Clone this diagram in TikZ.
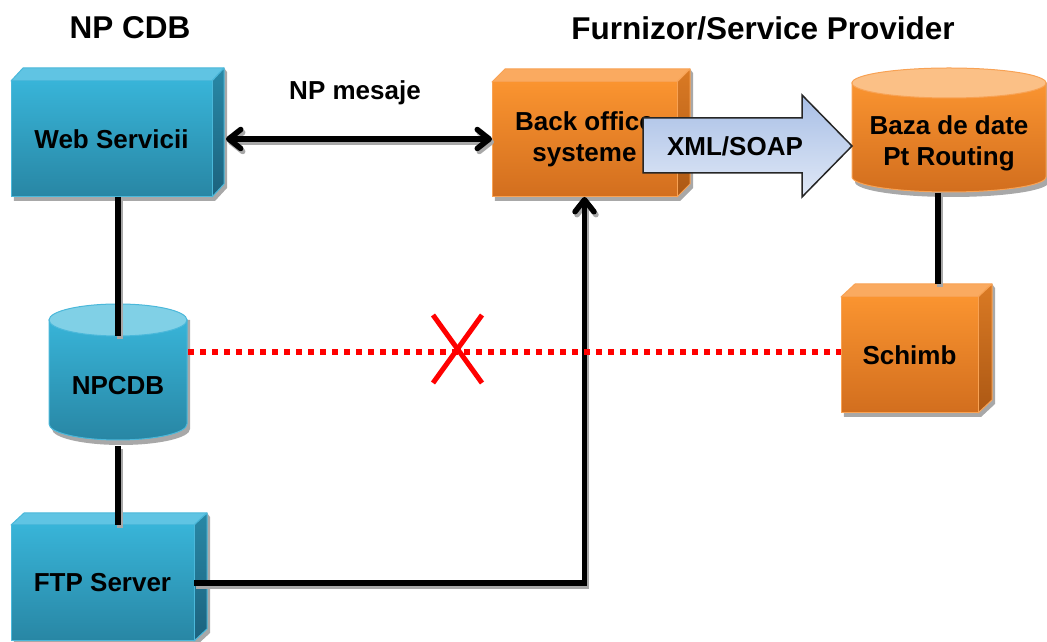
\documentclass[tikz,border=0pt]{standalone}
\usepackage{fontspec}
\setmainfont{Liberation Sans}
\usetikzlibrary{arrows.meta}

\pgfdeclarelayer{bg}
\pgfsetlayers{bg,main}

% palette
\definecolor{bluetop}{RGB}{56,180,216}
\definecolor{bluebot}{RGB}{40,134,164}
\definecolor{bluelid}{RGB}{96,196,227}
\definecolor{blueside}{RGB}{40,136,166}
\definecolor{bluesidedk}{RGB}{28,98,126}
\definecolor{blueedge}{RGB}{75,184,218}
\definecolor{bluecap}{RGB}{128,208,230}
\definecolor{orgtop}{RGB}{250,148,48}
\definecolor{orgbot}{RGB}{210,110,30}
\definecolor{orglid}{RGB}{250,170,96}
\definecolor{orgside}{RGB}{218,122,36}
\definecolor{orgsidedk}{RGB}{172,88,20}
\definecolor{orgedge}{RGB}{248,162,84}
\definecolor{orgcap}{RGB}{251,192,134}
\definecolor{shadowgray}{RGB}{168,168,168}
\definecolor{arrtop}{RGB}{168,191,230}
\definecolor{arrbot}{RGB}{224,232,246}
\definecolor{linkred}{RGB}{255,0,0}

% top and right faces of a box node, with its drop shadow
% #1 node, #2/#3 depth, #4 lid, #5/#6 side shading, #7 edge
\newcommand\cubesides[7]{%
  \begin{pgfonlayer}{bg}
    \fill[shadowgray]
      ([shift={(3,-4)}]#1.south west) -- ([shift={(3,-4)}]#1.south east)
      -- ([shift={(#2+3,#3-4)}]#1.south east) -- ([shift={(#2+3,#3-4)}]#1.north east)
      -- ([shift={(#2,#3)}]#1.north east) -- (#1.north west) -- cycle;
    \filldraw[fill=#4, draw=#7, line width=1pt, line join=round]
      (#1.north west) -- ([shift={(#2,#3)}]#1.north west)
      -- ([shift={(#2,#3)}]#1.north east) -- (#1.north east) -- cycle;
    \shade[top color=#5, bottom color=#6, draw=#7, line width=1pt, line join=round]
      (#1.north east) -- ([shift={(#2,#3)}]#1.north east)
      -- ([shift={(#2,#3)}]#1.south east) -- (#1.south east) -- cycle;
  \end{pgfonlayer}}

% database drum: #1 cx, #2 rx, #3 lid centre y, #4 base centre y, #5 ry,
% #6/#7 body shading, #8 lid, #9 edge
\newcommand\drum[9]{%
  \fill[shadowgray] (#1-#2+3,#3) -- (#1-#2+3,#4-5)
    arc[start angle=180, end angle=360, x radius=#2, y radius=#5] -- (#1+#2+3,#3) -- cycle;
  \shade[top color=#6, bottom color=#7, draw=#9, line width=1pt]
    (#1-#2,#3) -- (#1-#2,#4)
    arc[start angle=180, end angle=360, x radius=#2, y radius=#5] -- (#1+#2,#3) -- cycle;
  \filldraw[fill=#8, draw=#9, line width=1pt] (#1,#3) ellipse[x radius=#2, y radius=#5];}

\tikzset{
  every node/.style={font=\bfseries\fontsize{26pt}{31pt}\selectfont, align=center, text=black},
  title/.style={font=\bfseries\fontsize{31.5pt}{36pt}\selectfont},
  bluebox/.style={rectangle, inner sep=0pt, outer sep=0pt, top color=bluetop,
    bottom color=bluebot, draw=blueedge, line width=1pt},
  orangebox/.style={rectangle, inner sep=0pt, outer sep=0pt, top color=orgtop,
    bottom color=orgbot, draw=orgedge, line width=1pt},
  link/.style={line width=5.5pt, draw=black},
  linkshade/.style={line width=5.5pt, draw=shadowgray},
  barb/.style={-{Straight Barb[length=12pt, width=19pt, round]}},
  barbs/.style={{Straight Barb[length=12pt, width=19pt, round]}-{Straight Barb[length=12pt, width=19pt, round]}},
  blocked/.style={line width=5.5pt, draw=linkred, dash pattern=on 5.5pt off 6.5pt},
  cross/.style={line width=5pt, draw=linkred},
}

\begin{document}
\begin{tikzpicture}[x=1pt, y=1pt]
\useasboundingbox (0,0) rectangle (1047,642);

% headings
\node[title] (npcdbtitle) at (130,614) {NP CDB};
\node[title] (sptitle) at (763,614) {Furnizor/Service Provider};
\node (npmsg) at (355,549) {NP mesaje};

% databases
\drum{118}{69}{322}{218}{16}{bluetop}{bluebot}{bluecap}{blueedge}
\node (npcdb) at (118,256) {NPCDB};
\drum{949}{97}{559}{465}{15}{orgtop}{orgbot}{orgcap}{orgedge}
\node (baza) at (949,499) {Baza de date\\Pt Routing};

% boxes
\node[bluebox, minimum width=201pt, minimum height=116pt] (web) at (111.5,503) {Web Servicii};
\cubesides{web}{12}{13}{bluelid}{blueside}{bluesidedk}{blueedge}
\node[bluebox, minimum width=183pt, minimum height=116pt] (ftp) at (102.5,59) {FTP Server};
\cubesides{ftp}{13}{12}{bluelid}{blueside}{bluesidedk}{blueedge}
\node[orangebox, minimum width=185pt, minimum height=115pt] (back) at (584.5,502.5) {Back office\\systeme};
\cubesides{back}{13}{13}{orglid}{orgside}{orgsidedk}{orgedge}
\node[orangebox, minimum width=137pt, minimum height=116pt] (schimb) at (909.5,287) {Schimb};
\cubesides{schimb}{14}{13}{orglid}{orgside}{orgsidedk}{orgedge}

% connector ends on the drums
\coordinate (npcdbtop) at (118,306);
\coordinate (npcdbbot) at (118,196);
\coordinate (npcdbside) at (188,290);
\coordinate (bazabot) at (938,449);
\coordinate (schimbtop) at (938,358);

% connector shadows
\begin{scope}[transform canvas={shift={(2pt,-3pt)}}]
  \draw[linkshade] (web.south -| npcdbtop) -- (npcdbtop);
  \draw[linkshade] (npcdbbot) -- (ftp.north -| npcdbbot);
  \draw[linkshade] (bazabot) -- (schimbtop);
  \draw[linkshade, barbs] ([xshift=14pt]web.east) -- (web.east -| back.west);
  \draw[linkshade, barb] (ftp.east) -| (back.south);
\end{scope}

% connectors
\draw[link] (web.south -| npcdbtop) -- (npcdbtop);
\draw[link] (npcdbbot) -- (ftp.north -| npcdbbot);
\draw[link] (bazabot) -- (schimbtop);
\draw[link, barbs] ([xshift=14pt]web.east) -- (web.east -| back.west);
\draw[link, barb, line join=miter] (ftp.east) -| (back.south);

% broken direct link
\draw[blocked] (npcdbside) -- (npcdbside -| schimb.west);
\draw[cross] (433,327) -- (482,259);
\draw[cross] (482,327) -- (433,259);

% XML/SOAP block arrow
\shade[top color=arrtop, bottom color=arrbot, draw=black!85, line width=1.5pt, line join=miter]
  (643,524) -- (802,524) -- (802,547) -- (852,496) -- (802,445) -- (802,469) -- (643,469) -- cycle;
\node (soap) at (735,496) {XML/SOAP};
\end{tikzpicture}
\end{document}
